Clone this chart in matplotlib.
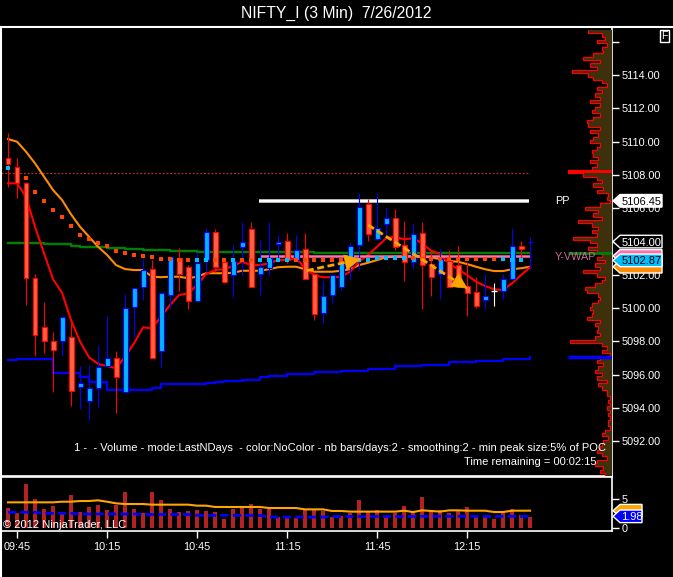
import numpy as np
import matplotlib
matplotlib.use('Agg')
import matplotlib.pyplot as plt
import matplotlib.transforms as mtransforms
from matplotlib.patches import Polygon, Rectangle
from matplotlib.lines import Line2D

plt.rcParams['font.family'] = ['Liberation Sans', 'DejaVu Sans']

TITLE = 'NIFTY_I (3 Min)  7/26/2012'
FIRST_BAR = (9, 42)          # time stamp of the first bar
BAR_MIN = 3
TICK_TIMES = ['09:45', '10:15', '10:45', '11:15', '11:45', '12:15']

# OHLC
opens = [5109.0, 5108.5, 5107.5, 5101.8, 5098.85, 5098.03, 5098.0, 5098.25, 5095.25, 5094.43,
         5095.19, 5096.55, 5096.99, 5094.95, 5100.05, 5101.25, 5102.34, 5097.45, 5100.79, 5103.0,
         5102.46, 5100.45, 5102.89, 5104.59, 5102.76, 5101.99, 5103.66, 5104.74, 5102.05, 5102.4,
         5103.84, 5104.05, 5102.89, 5103.54, 5102.04, 5099.69, 5100.79, 5101.29, 5102.59, 5103.8,
         5106.24, 5104.16, 5105.04, 5105.4, 5103.8, 5102.76, 5104.5, 5102.64, 5102.04, 5102.83,
         5102.6, 5101.33, 5100.95, 5100.49, 5101.03, 5101.03, 5101.74, 5103.74, 5103.98]
highs = [5110.5, 5109.0, 5107.55, 5102.05, 5100.4, 5098.55, 5099.45, 5099.3, 5096.53, 5096.59,
         5097.79, 5099.53, 5097.43, 5100.85, 5101.23, 5102.95, 5102.89, 5100.89, 5103.06, 5103.6,
         5102.6, 5103.39, 5104.83, 5104.76, 5102.9, 5103.8, 5105.2, 5105.2, 5104.1, 5105.2,
         5104.4, 5104.5, 5104.4, 5104.5, 5102.1, 5101.69, 5101.99, 5103.0, 5103.9, 5106.9,
         5106.54, 5106.9, 5106.0, 5105.94, 5105.24, 5105.04, 5105.16, 5103.44, 5103.54, 5103.5,
         5103.75, 5102.79, 5101.89, 5102.04, 5101.5, 5102.04, 5104.8, 5104.04, 5104.29]
lows = [5107.3, 5106.6, 5100.2, 5097.15, 5097.3, 5094.99, 5097.15, 5094.1, 5093.93, 5093.29,
        5094.08, 5096.55, 5093.69, 5094.95, 5098.29, 5100.49, 5096.99, 5096.45, 5099.99, 5101.03,
        5099.95, 5100.45, 5102.19, 5102.19, 5101.5, 5100.65, 5102.0, 5101.29, 5100.79, 5102.0,
        5102.79, 5102.7, 5102.79, 5101.74, 5099.29, 5099.13, 5100.33, 5101.09, 5101.69, 5102.29,
        5104.04, 5104.1, 5104.4, 5103.5, 5101.65, 5102.34, 5099.95, 5100.75, 5100.55, 5101.26,
        5101.3, 5099.55, 5100.03, 5099.95, 5100.15, 5100.55, 5101.74, 5103.0, 5102.41]
closes = [5108.64, 5107.5, 5101.8, 5098.4, 5098.0, 5097.49, 5099.45, 5095.05, 5095.49, 5095.19,
          5096.45, 5096.99, 5095.85, 5100.03, 5101.23, 5102.29, 5096.99, 5100.89, 5103.06, 5102.04,
          5100.45, 5102.7, 5104.56, 5102.49, 5101.59, 5102.83, 5104.0, 5101.29, 5102.46, 5103.0,
          5104.0, 5102.89, 5103.5, 5101.74, 5099.63, 5100.75, 5101.99, 5102.7, 5103.75, 5106.1,
          5104.44, 5104.8, 5105.4, 5103.66, 5102.76, 5104.44, 5102.59, 5101.89, 5102.94, 5101.26,
          5101.5, 5100.93, 5100.15, 5100.75, 5101.03, 5101.74, 5103.74, 5103.54, 5104.0]

# slow (orange) and fast (red) averages
ema_slow = [5110.16, 5110.0, 5109.4, 5108.7, 5107.9, 5107.1, 5106.5, 5105.64, 5104.89, 5104.29,
            5103.69, 5103.2, 5102.59, 5102.35, 5102.29, 5102.29, 5101.89, 5101.86, 5101.89, 5101.89,
            5101.8, 5101.89, 5102.1, 5102.1, 5102.1, 5102.13, 5102.25, 5102.25, 5102.25, 5102.34,
            5102.46, 5102.49, 5102.49, 5102.34, 5102.19, 5102.19, 5102.19, 5102.25, 5102.34, 5102.59,
            5102.73, 5102.89, 5103.06, 5103.09, 5103.09, 5103.14, 5103.09, 5103.06, 5102.94, 5102.83,
            5102.79, 5102.65, 5102.49, 5102.34, 5102.23, 5102.23, 5102.34, 5102.4, 5102.49]
ema_fast = [5107.5, 5107.5, 5106.7, 5104.89, 5103.3, 5101.74, 5100.93, 5099.29, 5097.99, 5097.05,
            5096.65, 5096.53, 5096.39, 5097.09, 5097.89, 5098.85, 5098.79, 5099.49, 5100.19, 5100.79,
            5100.89, 5101.39, 5102.05, 5102.29, 5102.34, 5102.53, 5102.79, 5102.59, 5102.59, 5102.7,
            5102.89, 5102.89, 5103.0, 5102.4, 5101.99, 5101.86, 5101.86, 5101.89, 5102.19, 5102.79,
            5103.2, 5103.69, 5104.2, 5104.29, 5104.14, 5104.2, 5103.9, 5103.45, 5103.26, 5102.7,
            5102.34, 5101.99, 5101.59, 5101.33, 5101.14, 5101.09, 5101.5, 5101.99, 5102.46]
green_line = [5103.93, 5103.93, 5103.93, 5103.93, 5103.86, 5103.86, 5103.86, 5103.75, 5103.7, 5103.66,
              5103.66, 5103.6, 5103.6, 5103.57, 5103.54, 5103.5, 5103.5, 5103.5, 5103.44, 5103.44,
              5103.44, 5103.39, 5103.39, 5103.39, 5103.39, 5103.39, 5103.39, 5103.39, 5103.39, 5103.39,
              5103.39, 5103.39, 5103.39, 5103.39, 5103.33, 5103.33, 5103.33, 5103.33, 5103.33, 5103.33,
              5103.33, 5103.33, 5103.33, 5103.33, 5103.33, 5103.33, 5103.33, 5103.33, 5103.33, 5103.33,
              5103.33, 5103.33, 5103.3, 5103.3, 5103.3, 5103.3, 5103.3, 5103.3, 5103.3]
blue_line = [5096.89, 5096.93, 5096.93, 5096.93, 5096.93, 5096.13, 5096.13, 5096.13, 5095.85, 5095.59,
             5095.59, 5095.09, 5095.09, 5095.09, 5095.09, 5095.09, 5095.19, 5095.43, 5095.43, 5095.43,
             5095.43, 5095.43, 5095.49, 5095.55, 5095.62, 5095.62, 5095.69, 5095.69, 5095.89, 5095.95,
             5095.95, 5096.05, 5096.05, 5096.05, 5096.15, 5096.15, 5096.15, 5096.25, 5096.25, 5096.25,
             5096.35, 5096.35, 5096.35, 5096.5, 5096.5, 5096.5, 5096.6, 5096.6, 5096.6, 5096.75,
             5096.75, 5096.75, 5096.85, 5096.85, 5096.85, 5096.95, 5096.95, 5096.95, 5097.05]
# trend dots: level and colour (o = orange / down, c = cyan / up), None = hidden
dot_level = [5108.44, None, 5107.84, 5107.0, 5106.46, 5105.9, 5105.5, 5104.95, 5104.41, 5104.14,
             5103.93, 5103.75, 5103.45, 5103.3, 5103.21, 5103.14, 5103.09, 5102.97, 5102.97, 5102.9,
             5102.9, 5102.9, 5102.9, 5102.9, 5102.9, 5102.9, 5102.9, 5102.9, 5102.9, 5102.9,
             5102.9, 5102.9, 5102.9, 5102.9, 5102.9, 5102.9, 5102.9, 5102.9, 5102.9, 5102.9,
             5102.9, 5103.0, 5103.0, 5103.0, 5103.0, 5103.0, 5102.94, 5102.94, 5102.94, 5102.94,
             5102.94, 5102.94, 5102.94, 5102.94, 5102.94, 5102.94, 5102.87, 5102.87, 5102.87]
dot_kind = 'c-oooooooooooooooooooccoocooccccooooooccccccco' + 'oooooooooccc'

PREV_LEVEL = 5108.1          # dotted line
PP = 5106.45
Y_VWAP = 5103.14
LEVEL_FROM_BAR = 28          # PP / Y-VWAP lines start here

# drawn dashed arrows: (bar, price) start -> tip
arrow_1 = [(33.2, 5102.26), (39.1, 5102.94)]
arrow_2 = [(40.0, 5105.0), (51.0, 5101.2)]

# volume panel
volume = [3.4, 2.55, 7.55, 4.97, 3.24, 3.76, 2.38, 5.71, 2.72, 3.59,
          3.93, 3.07, 3.99, 6.17, 3.24, 2.55, 6.17, 4.79, 3.24, 2.72,
          2.9, 3.07, 2.9, 2.72, 1.52, 3.24, 3.41, 4.10, 3.24, 3.24,
          1.86, 2.03, 1.69, 3.07, 3.07, 2.9, 1.86, 2.03, 2.55, 4.79,
          2.72, 3.07, 2.03, 2.55, 3.76, 2.72, 5.31, 2.72, 3.07, 2.55,
          2.9, 3.59, 2.03, 2.21, 1.52, 2.55, 3.24, 2.21, 1.86]
vol_avg = [4.39, 4.39, 4.39, 4.39, 4.39, 4.39, 4.5, 4.5, 4.62, 4.62,
           4.74, 4.5, 4.22, 4.1, 4.1, 4.1, 3.99, 3.99, 3.99, 3.99,
           3.99, 3.82, 3.82, 3.59, 3.59, 3.59, 3.59, 3.59, 3.59, 3.41,
           3.41, 3.41, 3.41, 3.18, 3.18, 3.18, 2.9, 2.9, 2.79, 2.79,
           2.79, 2.79, 2.79, 2.79, 2.95, 2.72, 3.01, 2.9, 2.79, 3.01,
           3.01, 2.95, 2.95, 2.95, 2.72, 2.72, 2.95, 2.95, 2.95]
vol_base = [2.67, 2.67, 2.67, 2.67, 2.5, 2.5, 2.5, 2.5, 2.38, 2.38,
            2.38, 2.38, 2.38, 2.38, 2.38, 2.3, 2.3, 2.3, 2.3, 2.3,
            2.3, 2.15, 2.15, 2.15, 2.15, 2.15, 2.15, 2.15, 2.15, 1.85,
            1.85, 1.85, 1.85, 1.85, 1.85, 1.85, 1.95, 1.95, 1.95, 1.95,
            1.95, 1.95, 1.95, 1.95, 1.95, 1.95, 1.98, 1.98, 1.98, 1.98,
            1.98, 1.98, 1.98, 1.98, 1.98, 1.98, 1.98, 1.98, 1.98]

# volume profile (relative volume per 0.2 pt bin, from the top)
PROFILE_TOP = 5116.6
PROFILE_STEP = 0.2
profile = [24, 10, 7, 15, 5, 10, 9, 19, 29, 12,
           22, 15, 40, 24, 19, 10, 5, 15, 10, 17,
           12, 22, 12, 17, 20, 12, 19, 25, 24, 12,
           22, 14, 19, 22, 12, 15, 20, 19, 14, 22,
           15, 20, 44, 29, 15, 10, 19, 9, 15, 4,
           5, 2, 12, 27, 14, 19, 10, 34, 20, 14,
           20, 15, 39, 22, 15, 24, 15, 10, 15, 7,
           17, 12, 29, 15, 7, 10, 17, 27, 25, 14,
           12, 14, 20, 22, 19, 20, 25, 12, 17, 14,
           15, 12, 17, 42, 10, 5, 10, 2, 12, 15,
           9, 14, 17, 10, 15, 5, 14, 10, 5, 5,
           2, 4, 2, 5, 2, 4, 2, 4, 4, 2,
           7, 10, 4, 9, 10, 12, 15, 10, 5, 15,
           17, 9, 12, 7]

INFO = ('1 -  - Volume - mode:LastNDays  - color:NoColor - nb bars/days:2 - '
        'smoothing:2 - min peak size:5% of POC')
TIME_LEFT = 'Time remaining = 00:02:15'

UP_FILL, UP_EDGE = '#00B4FF', '#0000FF'
DN_FILL, DN_EDGE = '#FF6040', '#FF0000'
ARROW_COL = '#FFA500'

W, H = 673, 577
IDT = mtransforms.IdentityTransform()


def fpx(x, y):
    return x / W, 1 - y / H


fig = plt.figure(figsize=(W / 100, H / 100), dpi=100, facecolor='black')
ax = fig.add_axes([1 / W, 1 - 476 / H, 611 / W, 449 / H], facecolor='black')
axv = fig.add_axes([1 / W, 1 - 531 / H, 611 / W, 54 / H], facecolor='black', sharex=ax)

x = np.arange(len(opens))
o, hi, lo, c = map(np.array, (opens, highs, lows, closes))
up, dn, flat = c > o, c < o, c == o

ax.set_xlim(-0.78, 67.1)
ax.set_ylim(5089.92, 5116.89)

# indicator lines
ax.step(x, green_line, where='post', color='#008000', lw=1.7, zorder=2)
ax.step(x, blue_line, where='post', color='#0000FF', lw=1.6, zorder=2)
ax.plot(x, ema_slow, color='#FF8C00', lw=1.5, zorder=3)
ax.plot(x, ema_fast, color='#FF0000', lw=1.5, zorder=3)
ax.hlines(PREV_LEVEL, x[0] - 0.8, x[-1], colors='#B03030', lw=0.9, linestyles=(0, (1.5, 1.5)), zorder=2)
ax.hlines(PP, LEVEL_FROM_BAR - 0.1, x[-1] - 0.1, colors='#BBBBBB', lw=2.8, zorder=3)
ax.hlines(PP, LEVEL_FROM_BAR - 0.1, x[-1] - 0.1, colors='white', lw=1.4, zorder=3)
ax.hlines(Y_VWAP, LEVEL_FROM_BAR, x[-1], colors='#FF70A8', lw=1.8, zorder=3)

# candles
wick_col = np.where(up, UP_EDGE, np.where(dn, DN_EDGE, 'white'))
ax.vlines(x, lo, hi, colors=wick_col, lw=0.8, zorder=4)
bottom = np.minimum(o, c)
height = np.abs(c - o)
ax.bar(x[up], height[up], bottom=bottom[up], width=0.55, color=UP_FILL,
       edgecolor=UP_EDGE, lw=0.8, zorder=5)
ax.bar(x[dn], height[dn], bottom=bottom[dn], width=0.55, color=DN_FILL,
       edgecolor=DN_EDGE, lw=0.8, zorder=5)
ax.hlines(c[flat], x[flat] - 0.35, x[flat] + 0.35, colors='white', lw=1.0, zorder=5)

# trend dots
for i, (lev, k) in enumerate(zip(dot_level, dot_kind)):
    if lev is None:
        continue
    ax.plot(i, lev, 's', ms=3.2, mew=0, color='#00BFFF' if k == 'c' else '#FF4500', zorder=6)

# dashed arrows with solid triangular heads (head built in pixels)
for (x0, y0), (x1, y1) in (arrow_1, arrow_2):
    ax.plot([x0, x1], [y0, y1], color=ARROW_COL, lw=2.0, dashes=(2.5, 1.3), zorder=7)
    p0 = ax.transData.transform((x0, y0))
    p1 = ax.transData.transform((x1, y1))
    d = (p1 - p0) / np.hypot(*(p1 - p0))
    n = np.array([-d[1], d[0]])
    base = p1 - 15 * d
    fig.add_artist(Polygon([p1, base + 7.5 * n, base - 7.5 * n], closed=True,
                           fc=ARROW_COL, ec=ARROW_COL, lw=0.5, transform=IDT, zorder=4))

ax.yaxis.tick_right()
yt = np.arange(5092, 5117, 2)
ax.set_yticks(yt)
ax.set_yticklabels([f'{v:.2f}' if v < 5116 else '' for v in yt])
ax.tick_params(axis='y', colors='white', length=5, width=1, pad=2, labelsize=7.8)
ax.tick_params(axis='x', bottom=False, labelbottom=False)
for sp in ax.spines.values():
    sp.set_color('white')
    sp.set_linewidth(1.2)

# volume profile on the right edge of the price panel
axp = ax.twiny()
axp.set_xlim(611, 0)
axp.set_axis_off()
prof = np.array(profile)
edges = PROFILE_TOP + PROFILE_STEP / 2 - PROFILE_STEP * np.arange(len(prof) + 1)
axp.stairs(prof[::-1], edges[::-1], orientation='horizontal', fill=True, color='#3d300c')
axp.stairs(prof[::-1], edges[::-1], orientation='horizontal', color='#FF0000', lw=0.9, baseline=None)
k = int(np.argmax(prof))
axp.barh(PROFILE_TOP - PROFILE_STEP * k, prof[k], height=PROFILE_STEP, color='#FF0000')
axp.hlines([green_line[-1]], 0, prof.max(), colors='#008000', lw=2)
axp.hlines([blue_line[-1]], 0, prof.max(), colors='#0000FF', lw=2.5)

# volume panel
axv.bar(x, volume, width=0.36, color='#B22222', zorder=2)
axv.plot(x, vol_avg, color='#FFA500', lw=1.5, zorder=3)
axv.plot(x, vol_base, color='#0000FF', lw=2.0, dashes=(3, 1.5), zorder=3)
axv.set_ylim(-0.55, 8.76)
axv.yaxis.tick_right()
axv.set_yticks([0, 5])
axv.set_yticklabels(['0', '5'])
axv.tick_params(axis='y', colors='white', length=5, width=1, pad=2, labelsize=7.8)
t0 = FIRST_BAR[0] * 60 + FIRST_BAR[1]
tick_pos = [(int(t[:2]) * 60 + int(t[3:]) - t0) / BAR_MIN for t in TICK_TIMES]
axv.set_xticks(tick_pos)
axv.set_xticklabels(TICK_TIMES)
axv.tick_params(axis='x', colors='white', length=5, width=1, pad=3, labelsize=7.8)
for sp in axv.spines.values():
    sp.set_color('white')
    sp.set_linewidth(1.2)

# frame lines that run past the axes
fig.add_artist(Line2D([0, 1], [1 - 27 / H] * 2, color='white', lw=1.5, transform=fig.transFigure))
fig.add_artist(Line2D([0.8 / W] * 2, [0, 1 - 27 / H], color='white', lw=1.5, transform=fig.transFigure))


# price tags on the axes' right edge (label=None for tags hidden behind others)
def tag(axis, val, label, fc, ec, tc, width=50, z=10):
    xr = axis.transAxes.transform((1, 0))[0]
    y = axis.transData.transform((0, val))[1]
    hh = 6.3
    verts = [(xr + 1, y), (xr + 8, y + hh), (xr + width, y + hh), (xr + width, y - hh), (xr + 8, y - hh)]
    fig.add_artist(Polygon(verts, closed=True, fc=fc, ec=ec, lw=1, transform=IDT, zorder=z))
    if label:
        fig.text((xr + (8 + width) / 2 + 0.5) / W, y / H, label, ha='center', va='center_baseline',
                 color=tc, fontsize=8, zorder=z + 0.5)


tag(ax, Y_VWAP, None, '#FF70B0', 'white', 'black', z=10)
tag(ax, ema_slow[-1], None, '#FF8C00', 'white', 'black', z=11)
tag(ax, dot_level[-1], f'{dot_level[-1]:.2f}', '#00BFFF', 'white', 'black', z=12)
tag(ax, closes[-1], f'{closes[-1]:.2f}', 'black', 'white', 'white', z=13)
tag(ax, PP, f'{PP:.2f}', 'white', 'white', 'black', z=14)
tag(axv, vol_avg[-1], None, '#FFA500', 'white', 'black', width=30, z=10)
tag(axv, vol_base[-1], f'{vol_base[-1]:.2f}', '#0000FF', 'white', 'white', width=30, z=11)

# texts
fig.text(*fpx(336, 13.5), TITLE, ha='center', va='center', color='white', fontsize=11.3)
fig.text(*fpx(606, 448), INFO, ha='right', va='center', color='white', fontsize=8, zorder=5)
fig.text(*fpx(596, 462), TIME_LEFT, ha='right', va='center', color='white', fontsize=8, zorder=5)
fig.text(*fpx(555, 201), 'PP', ha='left', va='center', color='white', fontsize=7.8)
fig.text(*fpx(555, 257), 'Y-VWAP', ha='left', va='center', color='#CC6699', fontsize=7.8, zorder=1)
fig.text(*fpx(3, 524.5), '\u00a9 2012 NinjaTrader, LLC', ha='left', va='center', color='white', fontsize=8)
fig.add_artist(Rectangle(fpx(660, 42), 9 / W, 12 / H, fc='black', ec='white', lw=1,
                         transform=fig.transFigure))
fig.text(*fpx(664.5, 36), 'F', ha='center', va='center', color='white', fontsize=7.5)

fig.savefig('out.png', dpi=100, facecolor='black')
